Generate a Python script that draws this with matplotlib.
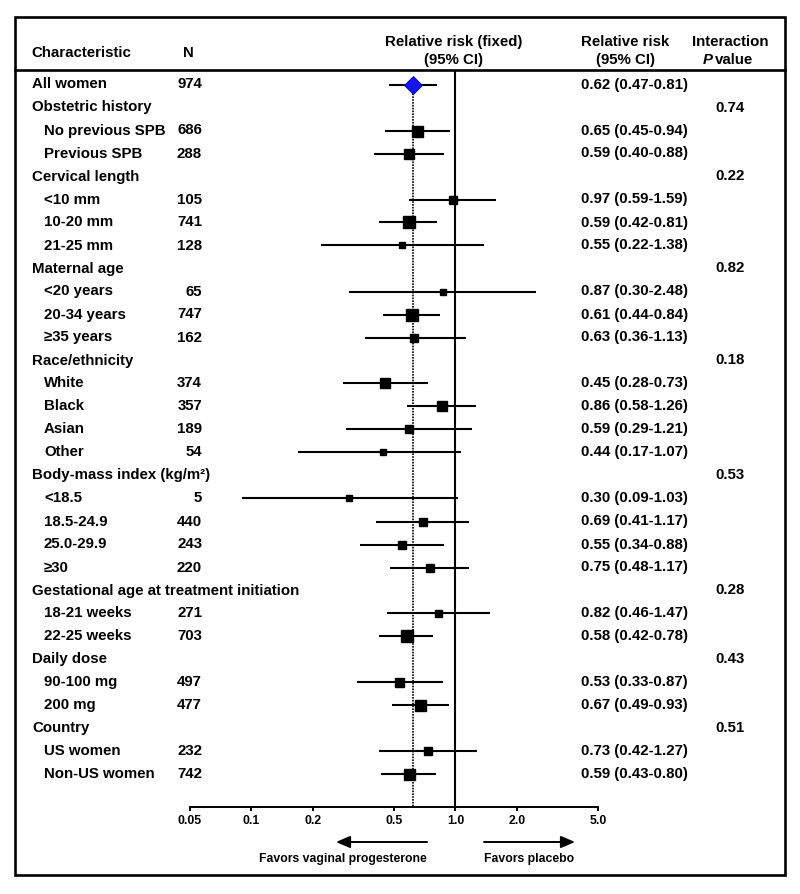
import matplotlib
matplotlib.use("Agg")
import matplotlib.pyplot as plt
import matplotlib.transforms as mtransforms
from matplotlib.lines import Line2D
from matplotlib.patches import Rectangle, FancyArrowPatch

plt.rcParams['font.family'] = ['Liberation Sans', 'DejaVu Sans']

# ---------------- data ----------------
labels = ["All women", "Obstetric history", "No previous SPB", "Previous SPB",
          "Cervical length", "<10 mm", "10-20 mm", "21-25 mm",
          "Maternal age", "<20 years", "20-34 years", "≥35 years",
          "Race/ethnicity", "White", "Black", "Asian", "Other",
          "Body-mass index (kg/m²)", "<18.5", "18.5-24.9", "25.0-29.9", "≥30",
          "Gestational age at treatment initiation", "18-21 weeks", "22-25 weeks",
          "Daily dose", "90-100 mg", "200 mg",
          "Country", "US women", "Non-US women"]
# row type: 'o' overall, 'h' group heading, 's' subgroup
kinds = ["o", "h", "s", "s", "h", "s", "s", "s", "h", "s", "s", "s",
         "h", "s", "s", "s", "s", "h", "s", "s", "s", "s",
         "h", "s", "s", "h", "s", "s", "h", "s", "s"]
n_vals = [974, None, 686, 288, None, 105, 741, 128, None, 65, 747, 162,
          None, 374, 357, 189, 54, None, 5, 440, 243, 220,
          None, 271, 703, None, 497, 477, None, 232, 742]
rr = [0.62, None, 0.65, 0.59, None, 0.97, 0.59, 0.55, None, 0.87, 0.61, 0.63,
      None, 0.45, 0.86, 0.59, 0.44, None, 0.30, 0.69, 0.55, 0.75,
      None, 0.82, 0.58, None, 0.53, 0.67, None, 0.73, 0.59]
ci_lo = [0.47, None, 0.45, 0.40, None, 0.59, 0.42, 0.22, None, 0.30, 0.44, 0.36,
         None, 0.28, 0.58, 0.29, 0.17, None, 0.09, 0.41, 0.34, 0.48,
         None, 0.46, 0.42, None, 0.33, 0.49, None, 0.42, 0.43]
ci_hi = [0.81, None, 0.94, 0.88, None, 1.59, 0.81, 1.38, None, 2.48, 0.84, 1.13,
         None, 0.73, 1.26, 1.21, 1.07, None, 1.03, 1.17, 0.88, 1.17,
         None, 1.47, 0.78, None, 0.87, 0.93, None, 1.27, 0.80]
p_vals = [None, "0.74", None, None, "0.22", None, None, None, "0.82", None, None, None,
          "0.18", None, None, None, None, "0.53", None, None, None, None,
          "0.28", None, None, "0.43", None, None, "0.51", None, None]
# relative study weight shown as box size (px side)
box_px = [17, None, 11, 10.5, None, 7.5, 12, 6, None, 5.5, 12.5, 8,
          None, 10, 10, 7.5, 5.5, None, 6, 8, 8.7, 8.7,
          None, 7, 12, None, 9, 11, None, 8, 11]
tick_vals = [0.05, 0.1, 0.2, 0.5, 1.0, 2.0, 5.0]
tick_labels = ["0.05", "0.1", "0.2", "0.5", "1.0", "2.0", "5.0"]

# ---------------- layout ----------------
W, H = 800, 894
fig = plt.figure(figsize=(W / 100, H / 100), dpi=100)

row0_px, row_step = 84.5, 23.0
axis_px, top_px = 807, 70
left_px, right_px = 190, 598


def fy(px):
    return 1 - px / H


ax = fig.add_axes([left_px / W, fy(axis_px), (right_px - left_px) / W,
                   (axis_px - top_px) / H])
ax.set_xscale("log")
ax.set_xlim(0.05, 5.0)
ylo = (axis_px - row0_px) / row_step
yhi = (top_px - row0_px) / row_step
ax.set_ylim(ylo, yhi)
for s in ["top", "right", "left"]:
    ax.spines[s].set_visible(False)
ax.spines["bottom"].set_linewidth(1.4)
ax.set_yticks([])
ax.set_xticks(tick_vals)
ax.set_xticklabels(tick_labels)
ax.minorticks_off()
ax.tick_params(axis="x", direction="out", length=3, width=1.4, pad=3,
               labelsize=8.8)
for t in ax.get_xticklabels():
    t.set_fontweight("bold")
ax.patch.set_alpha(0)

# reference lines
ax.axvline(1.0, color="black", lw=1.5, zorder=1)
ax.plot([rr[0], rr[0]], [0, ylo], color="black", lw=1.2,
        linestyle=(0, (1, 0.7)), zorder=1)

# estimates
for i, k in enumerate(kinds):
    if rr[i] is None:
        continue
    ax.plot([ci_lo[i], ci_hi[i]], [i, i], color="black", lw=1.5, zorder=2,
            solid_capstyle="butt")
    if k == "o":
        ax.plot(rr[i], i, marker="D", markersize=box_px[i] * 0.72 / 1.3,
                color="#1515ee", markeredgecolor="#0000aa", markeredgewidth=0.6,
                zorder=3)
    else:
        ax.plot(rr[i], i, marker="s", markersize=box_px[i] * 0.72,
                color="black", zorder=3, linestyle="none")

# text columns
tr = mtransforms.blended_transform_factory(fig.transFigure, ax.transData)
fs = 10.8
for i, k in enumerate(kinds):
    x = 32 if k in ("o", "h") else 44
    ax.text(x / W, i, labels[i], transform=tr, fontsize=fs, fontweight="bold",
            va="center", ha="left", clip_on=False)
    if n_vals[i] is not None:
        ax.text(202 / W, i, str(n_vals[i]), transform=tr, fontsize=fs,
                fontweight="bold", va="center", ha="right", clip_on=False)
    if rr[i] is not None:
        s = f"{rr[i]:.2f} ({ci_lo[i]:.2f}-{ci_hi[i]:.2f})"
        ax.text(581 / W, i, s, transform=tr, fontsize=fs, fontweight="bold",
                va="center", ha="left", clip_on=False)
    if p_vals[i] is not None:
        ax.text(730 / W, i, p_vals[i], transform=tr, fontsize=fs,
                fontweight="bold", va="center", ha="center", clip_on=False)


# header
def ftext(x, y, s, **kw):
    fig.text(x / W, fy(y), s, fontsize=fs, fontweight="bold", va="center", **kw)


ftext(31, 53, "Characteristic", ha="left")
ftext(183, 53, "N", ha="left")
ftext(454, 42, "Relative risk (fixed)", ha="center")
ftext(454, 60, "(95% CI)", ha="center")
ftext(625, 42, "Relative risk", ha="center")
ftext(625, 60, "(95% CI)", ha="center")
ftext(730, 42, "Interaction", ha="center")
ftext(703, 60, "P", ha="left", style="italic")
ftext(715, 60, "value", ha="left")

# arrows and direction labels
arrow_y = 842
for x0, x1 in [(427, 336), (484, 575)]:
    fig.patches.append(FancyArrowPatch(
        (x0 / W, fy(arrow_y)), (x1 / W, fy(arrow_y)), transform=fig.transFigure,
        arrowstyle="-|>,head_length=0.7,head_width=0.3", mutation_scale=12,
        color="black", lw=1.4, shrinkA=0, shrinkB=0))
fig.text(427 / W, fy(859), "Favors vaginal progesterone", fontsize=8.8,
         fontweight="bold", ha="right", va="center")
fig.text(484 / W, fy(859), "Favors placebo", fontsize=8.8,
         fontweight="bold", ha="left", va="center")

# frame
fig.patches.append(Rectangle((15 / W, fy(875)), (785 - 15) / W, (875 - 17) / H,
                             transform=fig.transFigure, fill=False,
                             edgecolor="black", lw=1.9))
fig.lines.append(Line2D([15 / W, 785 / W], [fy(70), fy(70)],
                        transform=fig.transFigure, color="black", lw=1.9))

fig.savefig("out.png", dpi=100)
